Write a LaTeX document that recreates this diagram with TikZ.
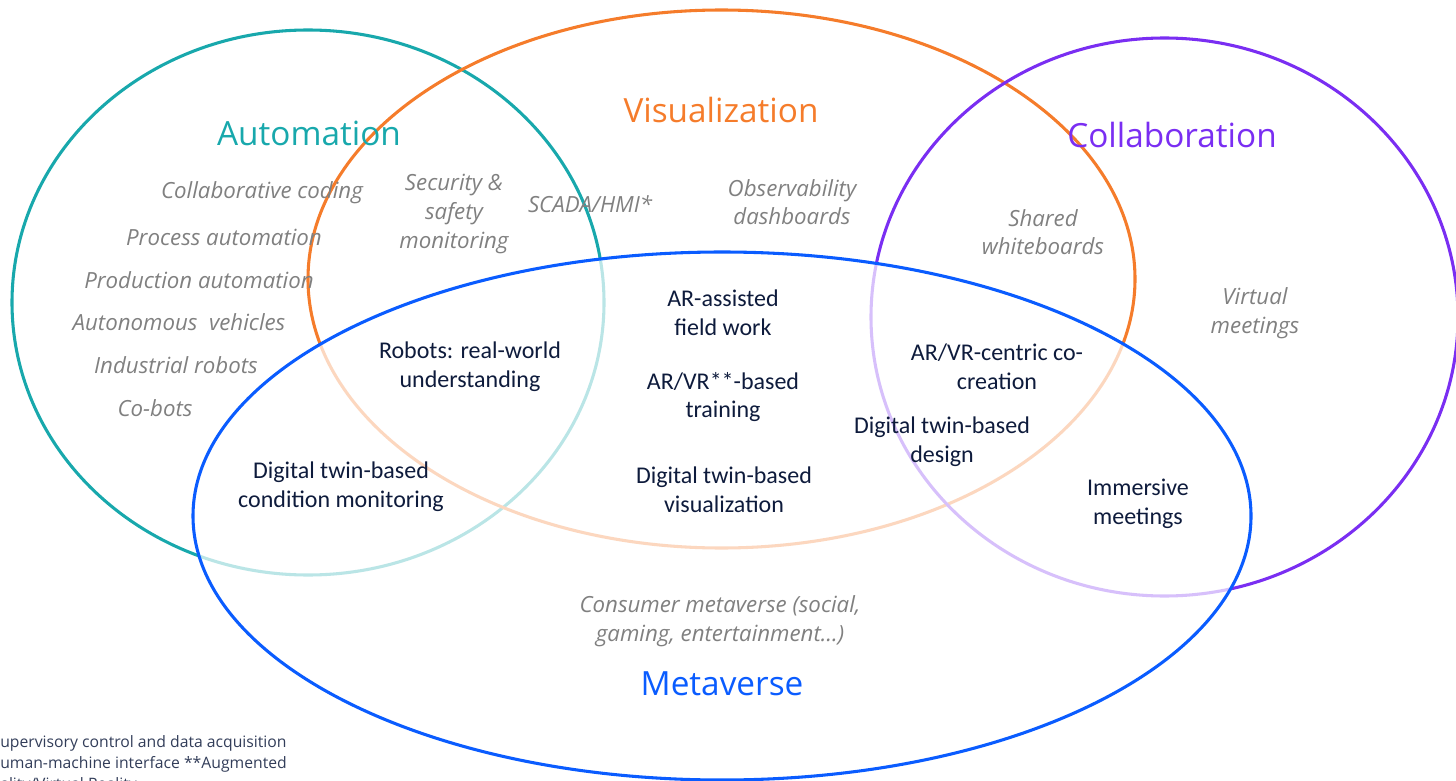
\documentclass[tikz,border=0pt]{standalone}
\usepackage{fontspec}
\setmainfont{Open Sans}
\newfontfamily\darkfont{Carlito}
\definecolor{autoC}{RGB}{24,168,172}
\definecolor{visC}{RGB}{245,124,43}
\definecolor{colC}{RGB}{122,46,242}
\definecolor{metaC}{RGB}{10,92,255}
\definecolor{greyT}{RGB}{128,128,128}
\definecolor{darkT}{RGB}{14,27,60}
\tikzset{
  ring/.style={line width=2.3pt},
  title/.style={font=\fontsize{25}{30}\selectfont, inner sep=0pt},
  greytxt/.style={text=greyT, align=center, inner sep=0pt, font=\fontsize{16.7}{21.5}\selectfont\itshape},
  darktxt/.style={text=darkT, align=center, inner sep=0pt, font=\darkfont\fontsize{18}{21.5}\selectfont},
  foot/.style={text=darkT!85, align=left, anchor=north west, inner sep=0pt, font=\fontsize{11.8}{15.8}\selectfont}
}
\begin{document}
\begin{tikzpicture}[x=0.75pt,y=-0.75pt]
\useasboundingbox (0,0) rectangle (1456,781);
\begin{scope}
\clip (0,0) rectangle (1456,781);
\draw[ring, autoC] (308,302.5) ellipse [x radius=296, y radius=272.5];
\draw[ring, visC] (721.5,279) ellipse [x radius=413.5, y radius=269];
\draw[ring, colC] (1164.5,317) ellipse [x radius=293.5, y radius=279];
\fill[white, opacity=0.7] (722,516) ellipse [x radius=529, y radius=264];
\draw[ring, metaC] (722,516) ellipse [x radius=529, y radius=264];
\node[foot] (fn) at (0,735) {upervisory control and data acquisition\\uman-machine interface **Augmented\\ality/Virtual Reality};
\end{scope}
% titles
\node[title, text=autoC] (tauto) at (309,133) {Automation};
\node[title, text=visC] (tvis) at (721,110) {Visualization};
\node[title, text=colC] (tcol) at (1172,135) {Collaboration};
\node[title, text=metaC] (tmeta) at (722,684) {Metaverse};
% grey items
\node[greytxt] (g1) at (262,193) {Collaborative coding};
\node[greytxt] (g2) at (224,237) {Process automation};
\node[greytxt] (g3) at (199,280) {Production automation};
\node[greytxt] (g4) at (179,322) {Autonomous~ vehicles};
\node[greytxt] (g5) at (176,365) {Industrial robots};
\node[greytxt] (g6) at (155,408) {Co-bots};
\node[greytxt] (g7) at (454,214) {Security \&\\safety\\monitoring};
\node[greytxt] (g8) at (590,204) {SCADA/HMI*};
\node[greytxt] (g9) at (792,202) {Observability\\dashboards};
\node[greytxt] (g10) at (1043,232) {Shared\\whiteboards};
\node[greytxt] (g11) at (1255,313) {Virtual\\meetings};
\node[greytxt] (g12) at (720,621) {Consumer metaverse (social,\\gaming, entertainment…)};
% dark items
\node[darktxt] (d1) at (723,313) {AR-assisted\\field work};
\node[darktxt] (d2) at (470,367) {Robots: real-world\\understanding};
\node[darktxt] (d3) at (723,397) {AR/VR**-based\\training};
\node[darktxt] (d4) at (997,367) {AR/VR-centric co-\\creation};
\node[darktxt] (d5) at (942,442) {Digital twin-based\\design};
\node[darktxt] (d6) at (341,487) {Digital twin-based\\condition monitoring};
\node[darktxt] (d7) at (724,490) {Digital twin-based\\visualization};
\node[darktxt] (d8) at (1138,504) {Immersive\\meetings};
\end{tikzpicture}
\end{document}
